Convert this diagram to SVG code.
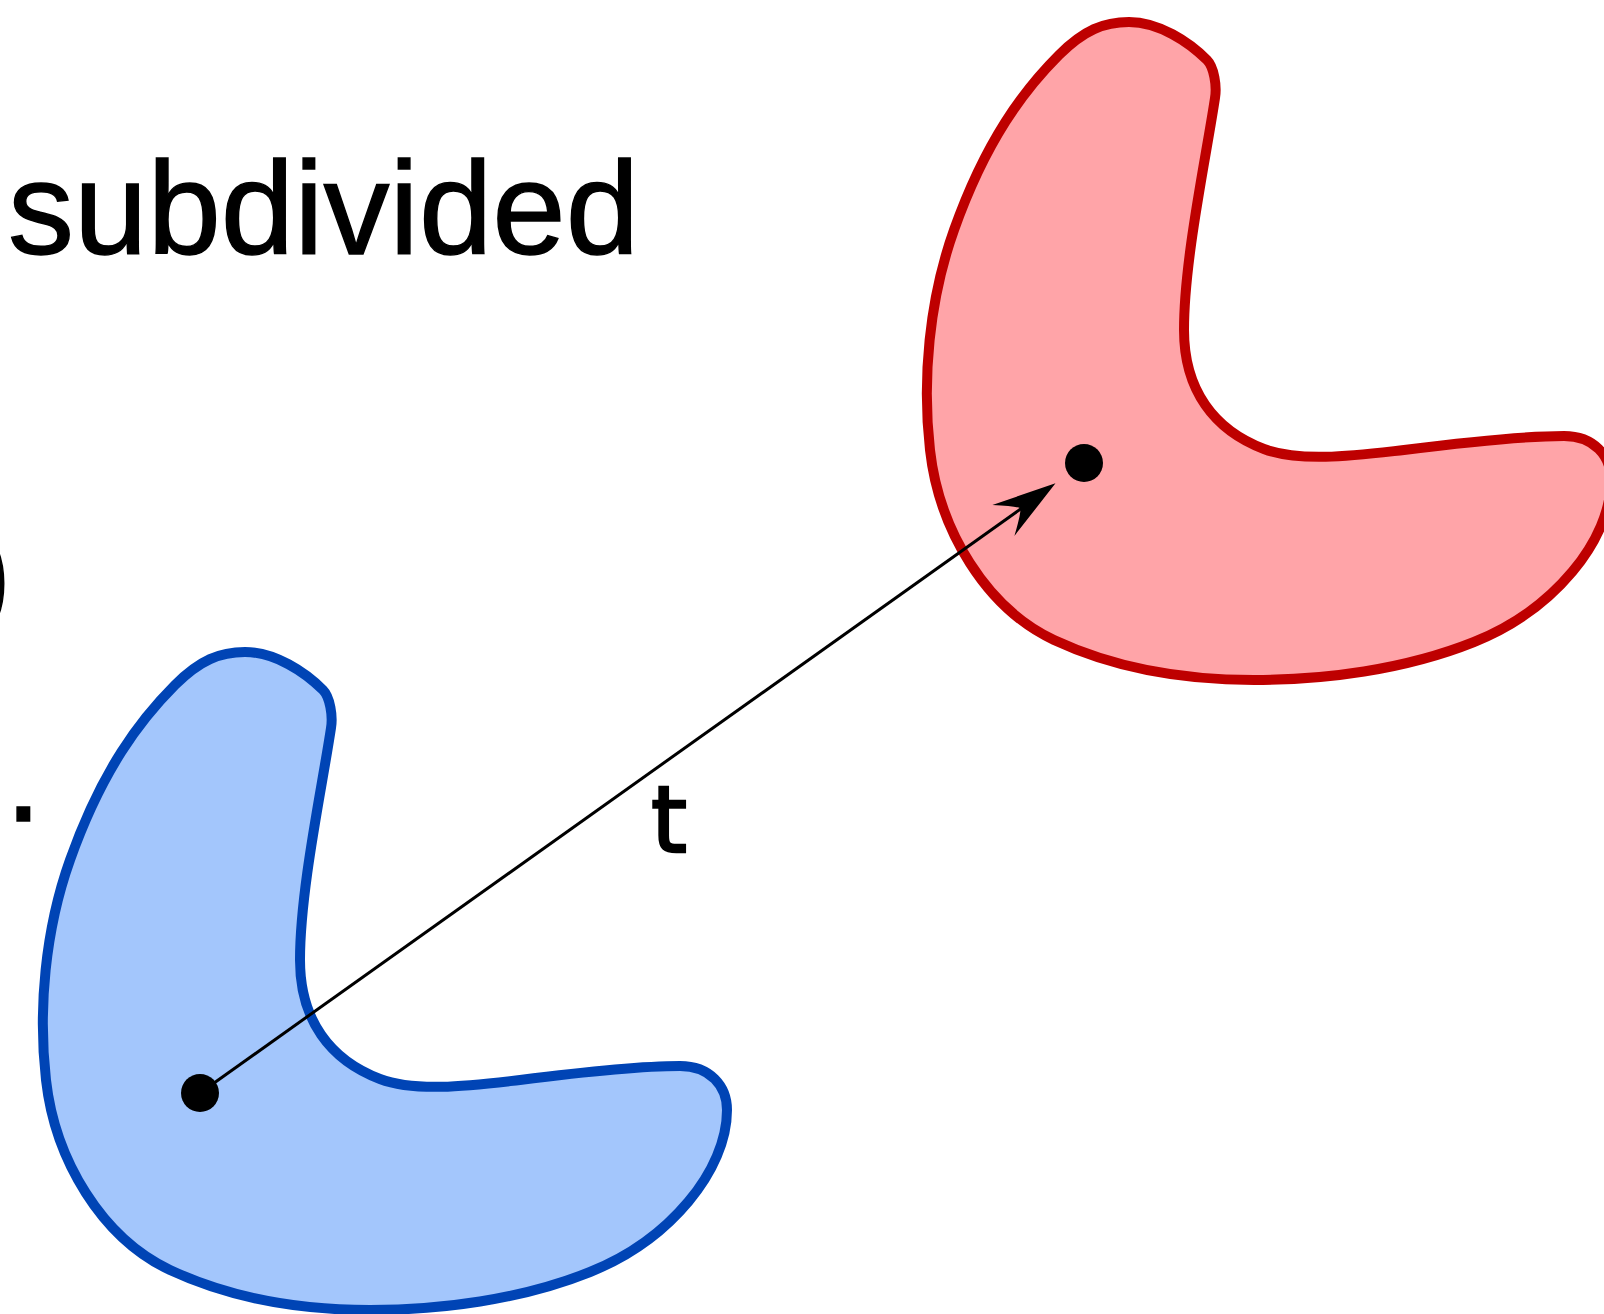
<svg xmlns="http://www.w3.org/2000/svg" width="1604" height="1314" viewBox="0 0 1604 1314">
<style>
.txt{font-family:"Liberation Sans",Arial,sans-serif;fill:#000;stroke:#000;stroke-width:1.4}
.lbl{font-family:"DejaVu Sans","Liberation Sans",sans-serif;fill:#000;stroke:#000;stroke-width:2.4}
.blob{stroke-width:10;stroke-linejoin:round}
.blue{fill:#a3c6fc;stroke:#0044b5}
.red{fill:#ffa4a8;stroke:#be0000}
.conn{stroke:#000;stroke-width:3;fill:none}
</style>
<defs>
<path id="shape" d="M245,652 C275,652 305,672 323,690 C330,697 333,716 331,728 C322,788 300,890 300,960 C300,1020 330,1060 380,1079 C417,1093 475,1085 520,1080 C575,1073 645,1066 680,1066 C710,1066 727,1086 727,1110 C727,1170 670,1240 590,1272 C520,1300 440,1310 370,1310 C300,1310 230,1298 170,1270 C102,1238 55,1160 46,1080 C38,1010 45,930 70,860 C102,770 140,720 175,685 C200,660 220,652 245,652 Z"/>
</defs>
<rect width="1604" height="1314" fill="#fff"/>
<text class="txt" x="8" y="254" font-size="132">subdivided</text>
<text class="txt" x="-32" y="618" font-size="132">)</text>
<text class="txt" x="5" y="821" font-size="132">.</text>
<g id="blue-shape">
<use href="#shape" class="blob blue"/>
<circle cx="200" cy="1093" r="19" fill="#000"/>
</g>
<g id="red-shape">
<use href="#shape" class="blob red" transform="translate(884,-630)"/>
<circle cx="1084" cy="463" r="19" fill="#000"/>
</g>
<g id="connectors">
<line class="conn" x1="200" y1="1093" x2="1022" y2="508"/>
<path d="M0,0 L-64,-19 Q-46,-5 -43,0 Q-46,5 -64,19 Z" fill="#000" transform="translate(1055.5,483.3) rotate(-35.47)"/>
<text class="lbl" x="651" y="852" font-size="92">t</text>
</g>
</svg>
